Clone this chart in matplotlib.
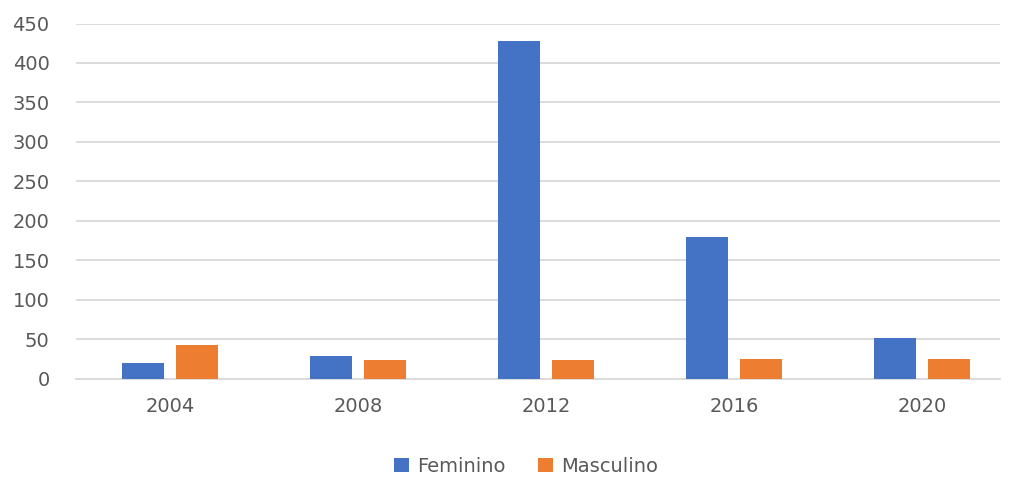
import matplotlib
matplotlib.use("Agg")
import matplotlib.pyplot as plt
import numpy as np

years = ["2004", "2008", "2012", "2016", "2020"]
feminino = [20, 28, 428, 180, 51]
masculino = [42, 23, 23, 25, 25]
y_ticks = [0, 50, 100, 150, 200, 250, 300, 350, 400, 450]

blue = "#4472C4"
orange = "#ED7D31"
grid_color = "#D9D9D9"
text_color = "#595959"

plt.rcParams["font.family"] = ["DejaVu Sans"]

fig = plt.figure(figsize=(10.11, 4.8), dpi=100)
ax = fig.add_axes([76 / 1011, 1 - 378.5 / 480, (1000 - 76) / 1011, (378.5 - 23.5) / 480])

x = np.arange(len(years))
w = 0.223
off = 0.1436
ax.bar(x - off, feminino, width=w, color=blue, label="Feminino", zorder=3)
ax.bar(x + off, masculino, width=w, color=orange, label="Masculino", zorder=3)

ax.set_xlim(-0.5, 4.415)
ax.set_ylim(0, 450)
ax.set_yticks(y_ticks)
ax.set_xticks(x)
ax.set_xticklabels(years)
ax.yaxis.grid(True, color=grid_color, linewidth=1.3, zorder=0)
ax.set_axisbelow(True)
for s in ["top", "right", "left"]:
    ax.spines[s].set_visible(False)
ax.spines["bottom"].set_color(grid_color)
ax.spines["bottom"].set_linewidth(1.3)
ax.tick_params(axis="both", length=0, labelsize=14, colors=text_color)
ax.tick_params(axis="y", pad=19)
ax.tick_params(axis="x", pad=13)

leg = fig.legend(loc="center", bbox_to_anchor=(526 / 1011, 1 - 466 / 480), ncol=2,
                 frameon=False, fontsize=14, handlelength=0.75, handleheight=0.75,
                 handletextpad=0.4, columnspacing=1.7)
for t in leg.get_texts():
    t.set_color(text_color)

fig.savefig("out.png", dpi=100, facecolor="white")
